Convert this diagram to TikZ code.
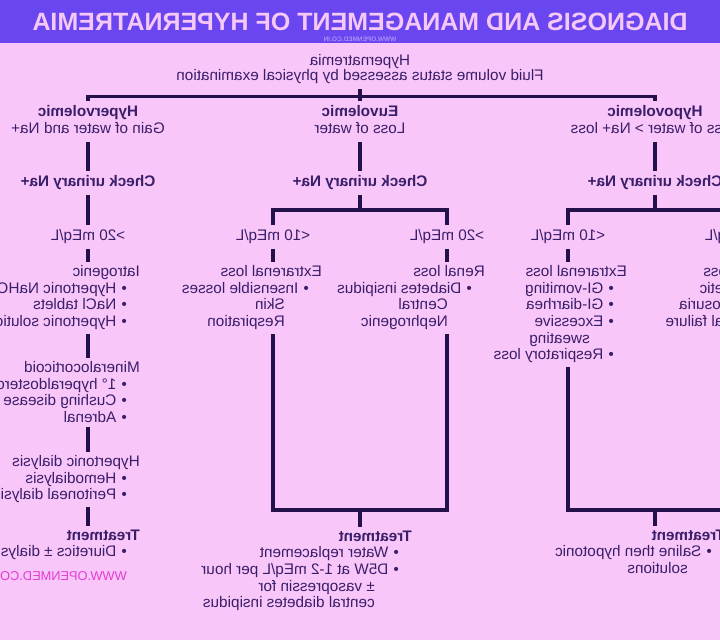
\documentclass[tikz,border=0pt]{standalone}
\usepackage{fontspec}
\setmainfont{Liberation Sans}
\definecolor{bgpink}{HTML}{F8C6F8}
\definecolor{band}{HTML}{6A46F0}
\definecolor{titlepink}{HTML}{F6C8F6}
\definecolor{bandtext}{HTML}{A890F6}
\definecolor{ink}{HTML}{3A1E6A}
\definecolor{linecol}{HTML}{24104A}
\definecolor{weblink}{HTML}{E23CD2}
\newcommand{\itm}[1]{\hspace*{13pt}\textbullet\hspace{5pt}#1}
\newcommand{\subln}[1]{\hspace*{37pt}#1}

\begin{document}
\begin{tikzpicture}[
        x=1pt,
        y=-1pt,
        xscale=-1,
        transform shape,
        lbl/.style={text=ink,font=\fontsize{15.3}{16.6}\selectfont,inner xsep=2pt,inner ysep=5pt,text height=11pt,text depth=3.5pt},
        head/.style={lbl,font=\fontsize{15.3}{16.6}\selectfont\bfseries},
        blk/.style={text=ink,font=\fontsize{15.3}{16.6}\selectfont,align=left,anchor=north west,inner xsep=0pt,inner ysep=4pt},
        conn/.style={draw=linecol,line width=3.5pt}
    ]
    \useasboundingbox (0,0) rectangle (720,640);
    \clip (0,0) rectangle (720,640);
    \fill[bgpink] (0,0) rectangle (720,640);
    \fill[band] (0,0) rectangle (720,43);

    % title
    \node[text=titlepink,font=\fontsize{25}{28}\selectfont\bfseries] (title) at (360,22) {DIAGNOSIS AND MANAGEMENT OF HYPERNATREMIA};
    \node[text=bandtext,font=\fontsize{6.5}{7}\selectfont\bfseries] (site) at (360,39) {WWW.OPENMED.CO.IN};

    \node[lbl] (hyper) at (360,62) {Hypernatremia};
    \node[lbl] (fluid) at (360,77) {Fluid volume status assessed by physical examination};

    % volume status
    \node[head] (hypo) at (65,113) {Hypovolemic};
    \node[lbl] (hyposub) at (65,130) {Loss of water > Na+ loss};
    \node[head] (eu) at (360,113) {Euvolemic};
    \node[lbl] (eusub) at (360,130) {Loss of water};
    \node[head] (hpv) at (632,113) {Hypervolemic};
    \node[lbl] (hpvsub) at (632,130) {Gain of water and Na+};

    \node[head] (chkA) at (65,183) {Check urinary Na+};
    \node[head] (chkB) at (360,183) {Check urinary Na+};
    \node[head] (chkC) at (632,183) {Check urinary Na+};

    \node[lbl] (a20) at (-22,237) {>20 mEq/L};
    \node[lbl] (a10) at (152,237) {<10 mEq/L};
    \node[lbl] (b20) at (273,237) {>20 mEq/L};
    \node[lbl] (b10) at (447,237) {<10 mEq/L};
    \node[lbl] (c20) at (632,237) {>20 mEq/L};

    % causes
    \node[blk] (renA) at (-55,261.5) {Renal loss\\\itm{Diuretic}\\\itm{Glycosuria}\\\itm{Renal failure}};
    \node[blk] (extA) at (93,261.5) {Extrarenal loss\\\itm{GI-vomiting}\\\itm{GI-diarrhea}\\\itm{Excessive}\\\subln{sweating}\\\itm{Respiratory loss}};
    \node[blk] (renB) at (235,261.5) {Renal loss\\\itm{Diabetes insipidus}\\\subln{Central}\\\subln{Nephrogenic}};
    \node[blk] (extB) at (398,261.5) {Extrarenal loss\\\itm{Insensible losses}\\\subln{Skin}\\\subln{Respiration}};
    \node[blk] (iatro) at (580,261.5) {Iatrogenic\\\itm{Hypertonic NaHCO$_3$}\\\itm{NaCl tablets}\\\itm{Hypertonic solution}};
    \node[blk] (minero) at (580,357.5) {Mineralocorticoid\\\itm{1° hyperaldosteronism}\\\itm{Cushing disease}\\\itm{Adrenal}};
    \node[blk] (dial) at (580,451.5) {Hypertonic dialysis\\\itm{Hemodialysis}\\\itm{Peritoneal dialysis}};

    % treatment
    \node[blk] (treatA) at (-5,525.5) {\textbf{Treatment}\\\itm{Saline then hypotonic}\\\subln{solutions}};
    \node[blk] (treatB) at (308,526.5) {\textbf{Treatment}\\\itm{Water replacement}\\\itm{D5W at 1-2 mEq/L per hour}\\\subln{± vasopressin for}\\\subln{central diabetes insipidus}};
    \node[blk] (treatC) at (580,525.5) {\textbf{Treatment}\\\itm{Diuretics ± dialysis}};

    \node[text=weblink,font=\fontsize{12.8}{14}\selectfont,anchor=west,inner sep=0pt] (web) at (593,576) {WWW.OPENMED.CO.IN};

    % connectors
    \draw[conn] (fluid.south) -- (eu.north);
    \draw[conn] (hypo.north) -- ++(0,-4) -| (hpv.north);
    \draw[conn] (hyposub.south) -- (chkA.north);
    \draw[conn] (eusub.south) -- (chkB.north);
    \draw[conn] (hpvsub.south) -- (chkC.north);

    \coordinate (jA) at (65,210);
    \coordinate (jB) at (360,210);
    \draw[conn] (chkA.south) -- (jA);
    \draw[conn] (a20.north) |- (jA) -| (a10.north);
    \draw[conn] (chkB.south) -- (jB);
    \draw[conn] (b20.north) |- (jB) -| (b10.north);
    \draw[conn] (chkC.south) -- (c20.north);

    \draw[conn] (a20.south) -- (a20.south |- renA.north);
    \draw[conn] (a10.south) -- (a10.south |- extA.north);
    \draw[conn] (b20.south) -- (b20.south |- renB.north);
    \draw[conn] (b10.south) -- (b10.south |- extB.north);
    \draw[conn] (c20.south) -- (c20.south |- iatro.north);
    \draw[conn] (c20 |- iatro.south) -- (c20 |- minero.north);
    \draw[conn] (c20 |- minero.south) -- (c20 |- dial.north);
    \draw[conn] (c20 |- dial.south) -- (c20 |- treatC.north);

    \coordinate (kA) at (65,510);
    \coordinate (kB) at (360,510);
    \draw[conn] (a20 |- renA.south) |- (kA) -| (a10 |- extA.south);
    \draw[conn] (kA) -- (kA |- treatA.north);
    \draw[conn] (b20 |- renB.south) |- (kB) -| (b10 |- extB.south);
    \draw[conn] (kB) -- (kB |- treatB.north);
\end{tikzpicture}
\end{document}
